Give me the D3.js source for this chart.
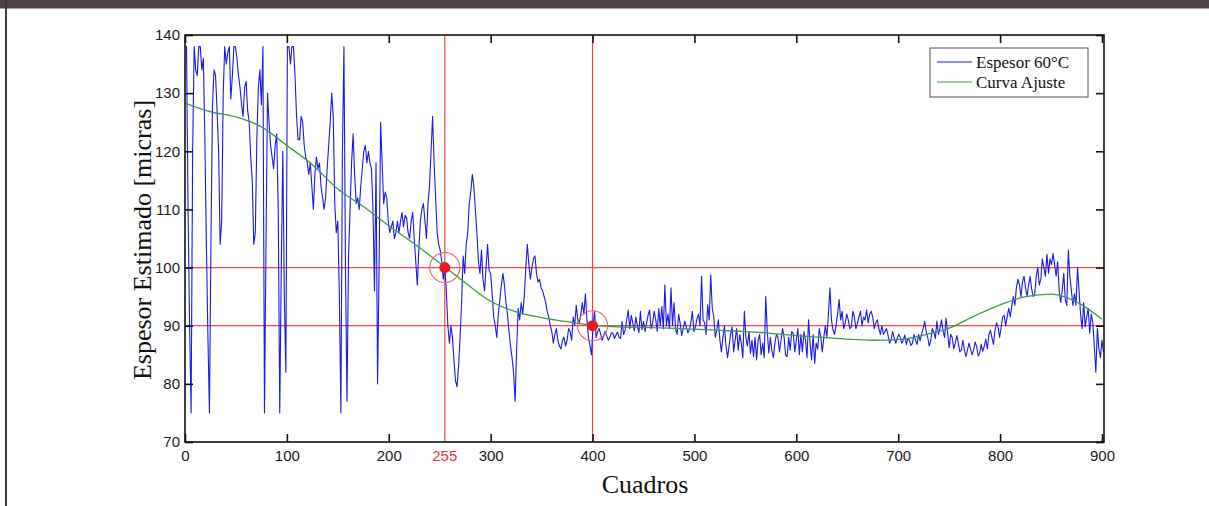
<!DOCTYPE html>
<html><head><meta charset="utf-8">
<script src="https://cdn.jsdelivr.net/npm/d3@7"></script>
<style>body{margin:0;background:#fff}svg{display:block}</style>
</head><body>
<svg id="c" width="1209" height="506"></svg>
<script>
// ---- data ----
const xTicks = [0,100,200,300,400,500,600,700,800,900];
const yTicks = [70,80,90,100,110,120,130,140];
const markerFrames = [255, 400];
const markerValues = [100, 90];
const frameStep = 1.5;
// Espesor 60°C, one value every 1.5 frames (0..901.5)
const espesor = [
138,138,110,90,75,120,138,134,133,138,138,134,136,122,104,88,75,105,128,134,
133,127,120,104,108,130,138,135,137,138,129,133,138,138,136,133,131,128,126,131,
132,127,125,119,115,104,106,122,131,134,128,138,75,104,130,125,121,119,117,121,
123,110,75,100,120,95,82,138,138,135,138,138,133,126,122,122,126,125,121,119,
118,116,118,114,110,116,119,117,118,114,112,110,112,117,121,125,130,126,111,106,
108,95,75,120,138,100,77,102,110,118,123,116,111,112,110,114,117,120,121,118,
120,118,117,110,96,118,80,100,125,118,111,113,112,108,106,107,108,105,106,108,
106,108,109.5,107,109,108.5,106,105,108,109.5,105,101,97,103,108,110,111,108,105,111,
114,120,126,118,112,106,104,103,101,98,100,96,90,87,90,88,84,80.5,79.5,83,
88,94,102,99,104,106,111,113,116,114,110,106,101,99,103,98,96,100,104,99.5,
99,95.5,91.5,90,88,92,94.4,97,99,97,94,92,89,86.5,84.5,82,77,86,93,91,
94,92,95,100,104,100.5,98,100,101.5,102,99,97.5,98,96.5,96,95,94,92.5,91.5,90,
89,87,88.5,89.5,87.5,86.5,86,87.5,88,86.5,87.5,89.5,89,87.5,91.5,90,93.5,91,90.5,92,
94,92,95.5,91,88,86.5,85,90,92.5,88,89,89.5,88.5,87.5,88.4,89,88.2,87.5,88,88.8,
88.7,87.8,88.4,88.9,88,87.8,90.7,88.5,89.2,91,92.7,89.5,91.8,90.5,89.1,91.5,90,88.8,92.5,89.3,
90.7,89,90.4,91.8,92.7,89.5,90.5,92.5,91,89,93,90,93.3,89.5,97,90,92,89.5,96.5,90,
94,89.5,88.5,92,90.4,88.3,89.5,90.8,89.8,88.8,89.3,90.5,92.5,89,89.8,91.2,92,90,98.5,91,
90.5,88.5,93.6,91,98.7,93,91.5,88,89.3,91,87.5,85.5,88,90,86.5,84.5,86.5,88.5,89.8,85.5,
87.6,89.5,85.8,88.5,87,84.5,92.5,88,86.5,89,85.2,87.5,84.7,88,84.1,87.5,88.5,85,87,84.5,
95,89,85.3,88,85.8,84.5,87,88.5,88,85.5,87.5,89.5,88,85,84.7,88,85.8,89,88.7,85.5,
87.5,89.5,85,88.5,85.5,89,87.5,84.5,91,87,84.1,88.5,83.5,87,86,89.5,88,85.5,88,90,
88,92,96.5,91,89.3,88.5,90,92,94.5,91,92.5,89.5,90.5,92,91,89.5,89.8,92.5,91.5,89.5,
90.5,91.5,92.5,90,91.5,91,92.7,90.5,92,92.5,91.5,89.5,90.5,91,89.5,88.5,90,88.5,89,89.5,
88.4,87,87.5,89,88,87,87.8,88.5,88,87,87.5,88.4,86.8,87.8,87.5,86.6,87,88.5,87.5,86.8,
88.5,87.4,88.6,89.5,90.7,89,88,86.5,87.5,89.5,88.8,87.8,90.8,88.5,89.5,91,89.2,88,91.3,88.8,
86.2,88.5,88,86,87,88.3,87,85.5,85.8,87.5,85.8,84.7,85.8,87,86,85,85.8,87.2,86.4,84.8,
85.3,86.8,85.6,86.5,87.7,86,88.5,89.2,88,86.8,89.2,90.5,89.8,88,89.6,91.5,91.8,90,91.6,93,
91.5,93.5,95,93.5,96.5,98,97,95,97.5,98.5,96.5,95,97,98.5,96.3,95,95.5,98.5,100,97,
98,101.5,100,98.5,102.3,99,101.5,100.5,102.4,100.5,98.5,101,96,94,96,99,94.5,93.5,103,98.5,
96,93.5,95.5,93.5,100,96,92,89.5,94,89.8,91.5,93,88.7,92,90.5,86.5,82,89.5,86,84.5,
87.5,85.5
];
// Curva Ajuste
const ajusteFrames = [0,25,50,75,100,125,150,175,200,225,250,275,300,325,350,375,400,425,450,475,500,525,550,575,600,625,650,675,700,725,750,775,800,825,850,875,900];
const ajusteValues = [128.3,126.8,125.9,124.2,121.0,117.7,113.5,110.5,107.2,104.1,100.8,97.4,94.2,92.4,91.4,90.7,90.1,89.8,89.7,89.6,89.4,89.2,89.0,88.7,88.3,88.0,87.7,87.5,87.6,88.4,89.6,91.7,93.6,95.0,95.45,94.1,91.1];
const legendLabels = ["Espesor 60°C", "Curva Ajuste"];
const xLabel = "Cuadros";
const yLabel = "Espesor Estimado [micras]";

// ---- drawing ----
const svg = d3.select("#c");
const W = 1209, H = 506;
const L = 185, R = 1104, T = 35, B = 442;
const x = d3.scaleLinear().domain([0, 902]).range([L, R]);
const y = d3.scaleLinear().domain([70, 140]).range([B, T]);

// page frame
svg.append("rect").attr("x",0).attr("y",0).attr("width",W).attr("height",8.5).attr("fill","#4b4442");
svg.append("rect").attr("x",5).attr("y",0).attr("width",2).attr("height",H).attr("fill","#3d3836");

svg.append("defs").append("clipPath").attr("id","clip")
  .append("rect").attr("x",L).attr("y",T).attr("width",R-L).attr("height",B-T);

const plot = svg.append("g").attr("clip-path","url(#clip)");

// red reference lines
const red = "#ef4a4a";
markerFrames.forEach(f => {
  plot.append("line").attr("x1",x(f)).attr("x2",x(f)).attr("y1",T).attr("y2",B)
    .attr("stroke",red).attr("stroke-width",1.2);
});
markerValues.forEach(v => {
  plot.append("line").attr("x1",L).attr("x2",R).attr("y1",y(v)).attr("y2",y(v))
    .attr("stroke",red).attr("stroke-width",1.2);
});

// blue series
const blueLine = d3.line().x((d,i)=>x(i*frameStep)).y(d=>y(d));
plot.append("path").datum(espesor).attr("d",blueLine)
  .attr("fill","none").attr("stroke","#1a1aee").attr("stroke-width",1.1).attr("stroke-linejoin","round");

// green fit
const greenLine = d3.line().x((d,i)=>x(ajusteFrames[i])).y(d=>y(d)).curve(d3.curveMonotoneX);
plot.append("path").datum(ajusteValues).attr("d",greenLine)
  .attr("fill","none").attr("stroke","#3c9e3c").attr("stroke-width",1.3);

// markers
markerFrames.forEach((f,i) => {
  svg.append("circle").attr("cx",x(f)).attr("cy",y(markerValues[i])).attr("r",15)
    .attr("fill","none").attr("stroke","#e86464").attr("stroke-width",1.1);
  svg.append("circle").attr("cx",x(f)).attr("cy",y(markerValues[i])).attr("r",5.5)
    .attr("fill","#ee1a22");
});

// axes
const tickFont = "'Liberation Sans', Arial, sans-serif";
const gB = svg.append("g").attr("transform",`translate(0,${B})`)
  .call(d3.axisBottom(x).tickValues(xTicks).tickSize(-8).tickPadding(8).tickFormat(d3.format("d")));
const gL = svg.append("g").attr("transform",`translate(${L},0)`)
  .call(d3.axisLeft(y).tickValues(yTicks).tickSize(-8).tickPadding(5).tickFormat(d3.format("d")));
const gT = svg.append("g").attr("transform",`translate(0,${T})`)
  .call(d3.axisTop(x).tickValues(xTicks).tickSize(-8).tickFormat(""));
const gR = svg.append("g").attr("transform",`translate(${R},0)`)
  .call(d3.axisRight(y).tickValues(yTicks).tickSize(-8).tickFormat(""));
[gB,gL,gT,gR].forEach(g => {
  g.select(".domain").remove();
  g.selectAll(".tick line").attr("stroke","#111").attr("stroke-width",1.6);
  g.selectAll(".tick text").attr("font-family",tickFont).attr("font-size",15).attr("fill","#1a1a1a");
});
svg.append("rect").attr("x",L).attr("y",T).attr("width",R-L).attr("height",B-T)
  .attr("fill","none").attr("stroke","#111").attr("stroke-width",1.6);

// red 255 label
svg.append("text").attr("x",x(markerFrames[0])).attr("y",B+8).attr("dy","0.71em")
  .attr("text-anchor","middle").attr("font-family",tickFont).attr("font-size",15)
  .attr("fill","#e8323a").text(String(markerFrames[0]));

// axis titles
const serif = "'Liberation Serif', 'Times New Roman', serif";
svg.append("text").attr("x",645).attr("y",493).attr("text-anchor","middle")
  .attr("font-family",serif).attr("font-size",26).attr("fill","#111").text(xLabel);
svg.append("text").attr("transform","translate(151,240) rotate(-90)").attr("text-anchor","middle")
  .attr("font-family",serif).attr("font-size",26).attr("fill","#111").text(yLabel);

// legend
const lg = svg.append("g");
lg.append("rect").attr("x",930).attr("y",48).attr("width",158).attr("height",49)
  .attr("fill","#fff").attr("stroke","#555").attr("stroke-width",1);
const lcol = ["#1a1aee","#3c9e3c"];
legendLabels.forEach((t,i) => {
  const yy = 62 + i*20;
  lg.append("line").attr("x1",937).attr("x2",972).attr("y1",yy).attr("y2",yy)
    .attr("stroke",lcol[i]).attr("stroke-width",1.1);
  lg.append("text").attr("x",976).attr("y",yy+6).attr("font-family",serif).attr("font-size",17)
    .attr("fill","#111").text(t);
});
</script>
</body></html>
